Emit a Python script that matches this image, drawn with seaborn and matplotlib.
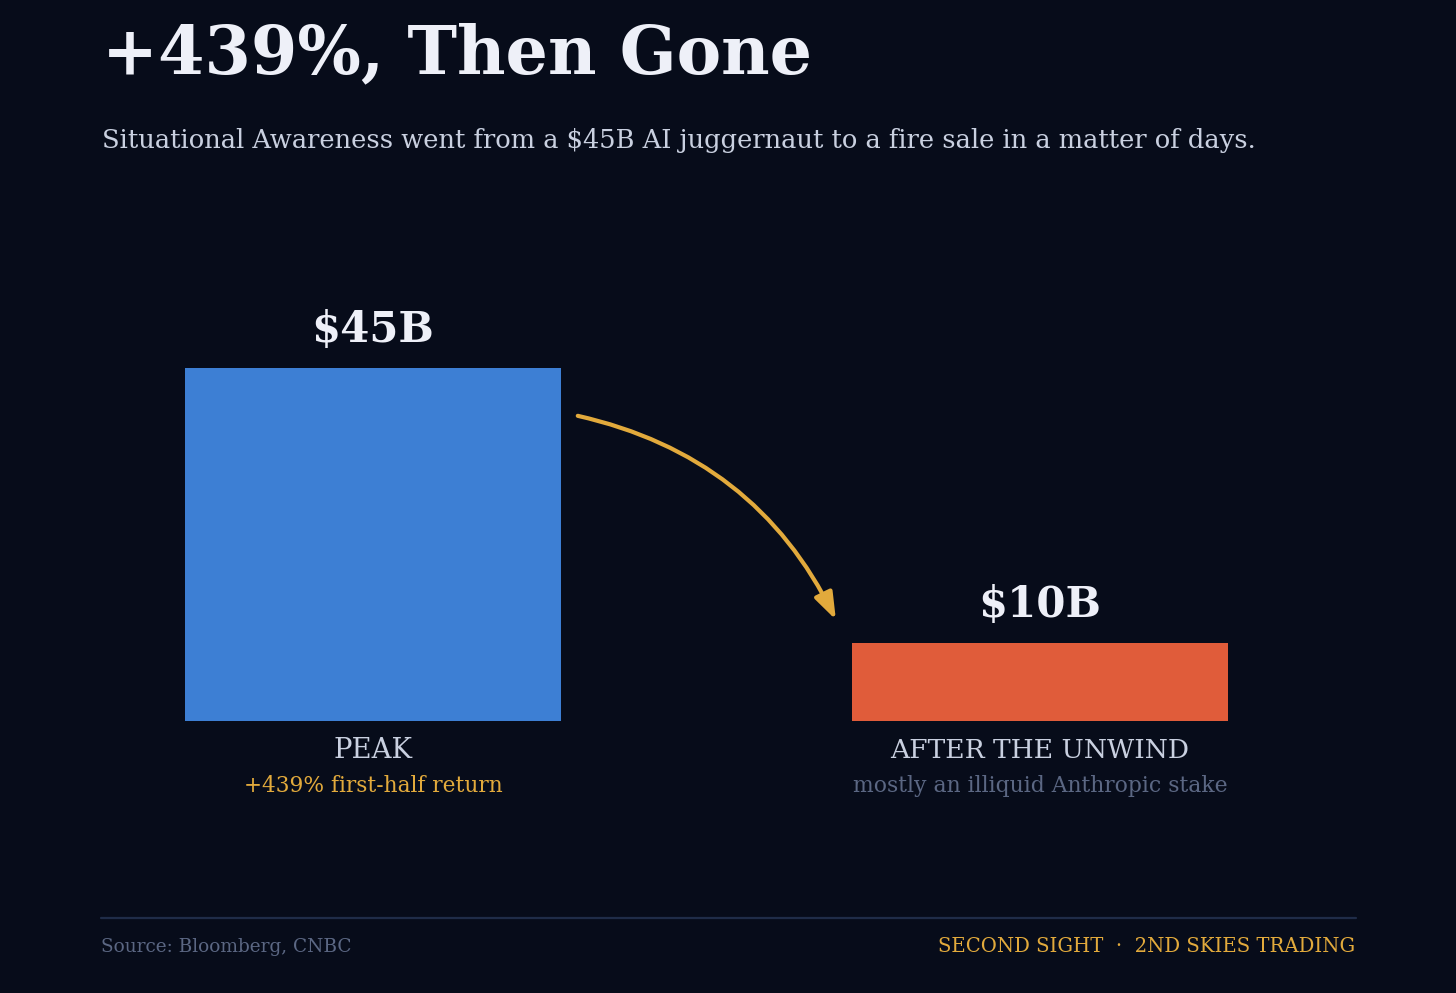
import numpy as np
import pandas as pd
import seaborn as sns
import matplotlib
matplotlib.use("Agg")
import matplotlib.pyplot as plt
from matplotlib.patches import FancyArrowPatch

# data
categories = ["PEAK", "AFTER THE UNWIND"]
values = [45, 10]
value_labels = ["$45B", "$10B"]
sublabels = ["+439% first-half return", "mostly an illiquid Anthropic stake"]

title = "+439%, Then Gone"
subtitle = "Situational Awareness went from a $45B AI juggernaut to a fire sale in a matter of days."
source = "Source: Bloomberg, CNBC"
brand = "SECOND SIGHT  \u00b7  2ND SKIES TRADING"

BG = "#070c1a"
BLUE = "#3d7fd4"
RED = "#e05c3a"
GOLD = "#e2aa3c"
WHITE = "#eef0f8"
LIGHT = "#c9d0e0"
GREY = "#5b6783"

W, H = 1456, 993
sns.set_theme(style="white")
plt.rcParams["font.family"] = ["DejaVu Serif"]

fig = plt.figure(figsize=(W / 100, H / 100), dpi=100, facecolor=BG)


def fit(t, width_px):
    # shrink/grow a text until it spans width_px
    r = fig.canvas.get_renderer()
    for _ in range(3):
        w = t.get_window_extent(r).width
        t.set_fontsize(t.get_fontsize() * width_px / w)
    return t


def ftext(x, y, s, width_px, **kw):
    t = fig.text(x / W, 1 - y / H, s, **kw)
    return fit(t, width_px)


# axes: x -0.5..1.5 over 1334 px, bars centred at 373 / 1040 px
ax = fig.add_axes([39.5 / W, (H - 721) / H, 1334 / W, 470.7 / H])
ax.set_facecolor(BG)
df = pd.DataFrame({"cat": categories, "val": values})
sns.barplot(data=df, x="cat", y="val", hue="cat", palette=[BLUE, RED],
            width=0.564, saturation=1, legend=False, ax=ax,
            edgecolor="none", linewidth=0)
ax.set_xlim(-0.5, 1.5)
ax.set_ylim(0, 60)
ax.axis("off")

for c, lab in zip(ax.containers, value_labels):
    t = ax.bar_label(c, labels=[lab], padding=12, color=WHITE,
                     fontsize=34, fontweight="bold")
    for tt in t:
        fit(tt, 123)

for i, (cat, sub) in enumerate(zip(categories, sublabels)):
    t1 = ax.annotate(cat, xy=(i, 0), xytext=(0, -21), textcoords="offset points",
                     ha="center", va="center", color=LIGHT, fontsize=18)
    fit(t1, [79, 299][i])
    t2 = ax.annotate(sub, xy=(i, 0), xytext=(0, -47), textcoords="offset points",
                     ha="center", va="center", color=[GOLD, GREY][i], fontsize=16)
    fit(t2, [258, 375][i])

# curved arrow between the bars
arr = FancyArrowPatch((0.307, 38.9), (0.694, 12.9), connectionstyle="arc3,rad=-0.24",
                      arrowstyle="-|>,head_length=0.9,head_width=0.32", mutation_scale=18,
                      color=GOLD, lw=3, shrinkA=0, shrinkB=0, capstyle="round")
ax.add_patch(arr)

# header
ftext(102, 73, title, 710, fontsize=56, fontweight="bold", color=WHITE, va="baseline")
ftext(102, 148, subtitle, 1155, fontsize=20, color=LIGHT, va="baseline")

# footer
fig.add_artist(plt.Line2D([101 / W, 1356 / W], [1 - 918 / H, 1 - 918 / H], color="#1f2c48", lw=1.6))
ftext(101, 947, source, 251, fontsize=14, color=GREY, va="center")
ftext(1355, 947, brand, 418, fontsize=14, color=GOLD, va="center", ha="right")

fig.savefig("out.png", dpi=100, facecolor=BG)
